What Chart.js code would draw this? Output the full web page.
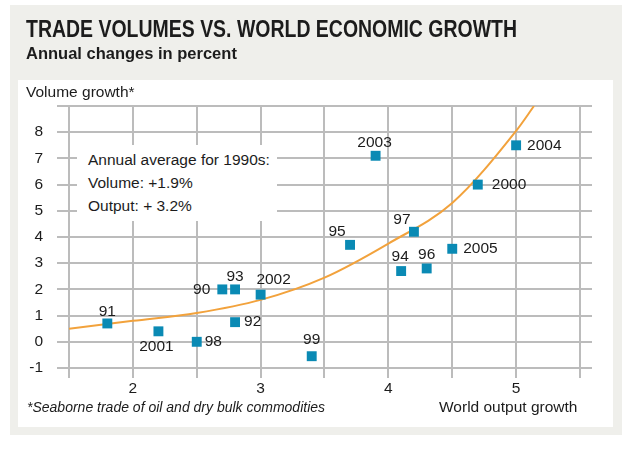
<!DOCTYPE html>
<html>
<head>
<meta charset="utf-8">
<script src="https://cdn.jsdelivr.net/npm/chart.js@4.4.0/dist/chart.umd.min.js"></script>
<style>
html,body{margin:0;padding:0;background:#fff;}
#wrap{position:relative;width:635px;height:449px;overflow:hidden;font-family:'Liberation Sans',Arial,sans-serif;color:#1c1c1c;}
#gray{position:absolute;left:10px;top:5px;width:612px;height:430px;background:#efefeb;}
#white{position:absolute;left:18px;top:80px;width:595px;height:347px;background:#fff;}
#c{position:absolute;left:0;top:0;}
.t{position:absolute;white-space:nowrap;}
#title{left:26px;top:18px;font-weight:bold;font-size:23.5px;line-height:23.5px;transform-origin:0 0;}
#sub{left:26px;top:45px;font-weight:bold;font-size:16.5px;line-height:16.5px;}
#ylab{left:26px;top:84px;font-size:15.5px;line-height:15.5px;}
#foot{left:27px;top:400px;font-style:italic;font-size:14px;line-height:14px;}
#xlab{left:439px;top:399px;font-size:15.5px;line-height:15.5px;}
#note{left:77px;top:145px;width:200px;height:76px;background:#fff;}
#notetxt{left:88px;top:148px;font-size:15.5px;line-height:23px;}
</style>
</head>
<body>
<div id="wrap">
  <div id="gray"></div>
  <div id="white"></div>
  <canvas id="c" width="635" height="449"></canvas>
  <div class="t" id="title">TRADE VOLUMES VS. WORLD ECONOMIC GROWTH</div>
  <div class="t" id="sub">Annual changes in percent</div>
  <div class="t" id="ylab">Volume growth*</div>
  <div class="t" id="note"></div>
  <div class="t" id="notetxt">Annual average for 1990s:<br>Volume: +1.9%<br>Output: + 3.2%</div>
  <div class="t" id="foot">*Seaborne trade of oil and dry bulk commodities</div>
  <div class="t" id="xlab">World output growth</div>
</div>
<script>
// ---- data ----
const years        = ['91','2001','98','90','93','92','2002','99','2003','95','97','94','96','2005','2000','2004'];
const outputGrowth = [1.8, 2.2, 2.5, 2.7, 2.8, 2.8, 3.0, 3.4, 3.9, 3.7, 4.2, 4.1, 4.3, 4.5, 4.7, 5.0];
const volumeGrowth = [0.7, 0.4, 0.0, 2.0, 2.0, 0.75, 1.8, -0.55, 7.1, 3.7, 4.2, 2.7, 2.8, 3.55, 6.0, 7.5];
const trendX = [1.5, 2.0, 2.5, 3.0, 3.5, 4.0, 4.5, 5.0, 5.14];
const trendY = [0.5, 0.8, 1.1, 1.6, 2.45, 3.75, 5.3, 8.05, 9.0];
const xTickValues = [1.5, 2, 2.5, 3, 3.5, 4, 4.5, 5, 5.5];
const xTickLabels = ['', '2', '', '3', '', '4', '', '5', ''];
const yTickValues = [-1, 0, 1, 2, 3, 4, 5, 6, 7, 8, 9];
const yTickLabels = ['-1', '0', '1', '2', '3', '4', '5', '6', '7', '8', ''];

// label placement (styling, separate from data)
const labelPlacement = {
  '91':[0,-12,'center'], '2001':[-2,15,'center'], '98':[8,0,'left'], '90':[-12,0,'right'],
  '93':[0,-13,'center'], '92':[9,0,'left'], '2002':[13,-15,'center'], '99':[0,-16,'center'],
  '2003':[-1,-13,'center'], '95':[-13,-13,'center'], '97':[-12,-12,'center'], '94':[-1,-14,'center'],
  '96':[0,-14,'center'], '2005':[11,0,'left'], '2000':[14,0,'left'], '2004':[11,0,'left']
};

// condense the title to the reference width
(function () {
  const t = document.getElementById('title');
  const w = t.getBoundingClientRect().width;
  t.style.transform = 'scaleX(' + (491 / w) + ')';
})();

const points = outputGrowth.map((x, i) => ({x: x, y: volumeGrowth[i]}));
const trend = trendX.map((x, i) => ({x: x, y: trendY[i]}));

const GRID = '#bcbcbc';
const FONT = {family: "'Liberation Sans', Arial, sans-serif", size: 15.5};

const labelPlugin = {
  id: 'pointLabels',
  afterDatasetsDraw(chart) {
    const meta = chart.getDatasetMeta(0);
    const ctx = chart.ctx;
    ctx.save();
    ctx.font = '15.5px ' + FONT.family;
    ctx.fillStyle = '#1c1c1c';
    ctx.textBaseline = 'middle';
    meta.data.forEach((el, i) => {
      const p = labelPlacement[years[i]];
      ctx.textAlign = p[2];
      ctx.fillText(years[i], el.x + p[0], el.y + p[1]);
    });
    ctx.restore();
  }
};

new Chart(document.getElementById('c'), {
  type: 'scatter',
  data: {
    datasets: [
      {
        data: points,
        pointStyle: 'rect',
        pointRadius: 7,
        pointHoverRadius: 7,
        backgroundColor: '#0a8ab4',
        borderWidth: 0,
        showLine: false,
        order: 0
      },
      {
        data: trend,
        showLine: true,
        borderColor: '#f2a23c',
        borderWidth: 2,
        pointRadius: 0,
        cubicInterpolationMode: 'monotone',
        fill: false,
        order: 1
      }
    ]
  },
  options: {
    responsive: false,
    animation: false,
    events: [],
    layout: {padding: {left: 0, top: 106, right: 43, bottom: 0}},
    plugins: {legend: {display: false}, tooltip: {enabled: false}},
    scales: {
      x: {
        type: 'linear',
        min: 1.5,
        max: 5.594,
        afterBuildTicks(s) { s.ticks = xTickValues.map(v => ({value: v})); },
        afterFit(s) { s.height = 81; },
        grid: {color: GRID, lineWidth: 2, tickLength: 10, tickColor: GRID},
        border: {display: false},
        ticks: {
          font: FONT, color: '#1c1c1c', padding: 1, maxRotation: 0, autoSkip: false,
          callback(v) { const i = xTickValues.indexOf(v); return i >= 0 ? xTickLabels[i] : ''; }
        }
      },
      y: {
        type: 'linear',
        min: -1,
        max: 9,
        afterBuildTicks(s) { s.ticks = yTickValues.map(v => ({value: v})); },
        afterFit(s) { s.width = 69; },
        grid: {color: GRID, lineWidth: 2, tickLength: 12, tickColor: GRID},
        border: {display: false},
        ticks: {
          font: FONT, color: '#1c1c1c', padding: 14, autoSkip: false,
          callback(v) { const i = yTickValues.indexOf(v); return i >= 0 ? yTickLabels[i] : ''; }
        }
      }
    }
  },
  plugins: [labelPlugin]
});
</script>
</body>
</html>
